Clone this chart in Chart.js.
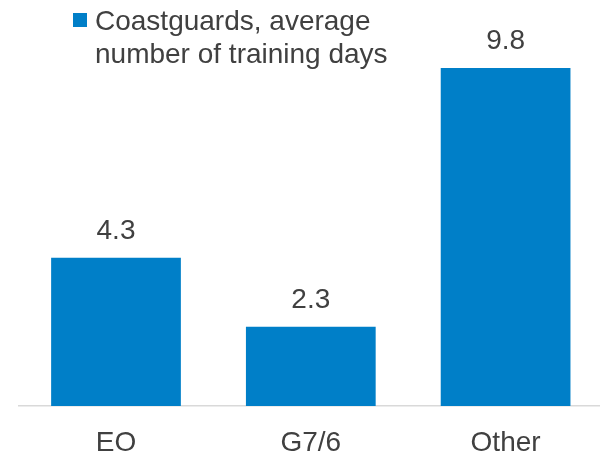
<!DOCTYPE html>
<html>
<head>
<meta charset="utf-8">
<script src="https://cdn.jsdelivr.net/npm/chart.js@4/dist/chart.umd.min.js"></script>
<style>
  html, body { margin: 0; padding: 0; background: #ffffff; }
  #wrap { width: 600px; height: 453px; position: relative; overflow: hidden; }
</style>
</head>
<body>
<div id="wrap"><canvas id="c" width="603" height="453"></canvas></div>
<script>
const categories = ["EO", "G7/6", "Other"];
const trainingDays = [4.3, 2.3, 9.8];
const seriesLabelLines = ["Coastguards, average", "number of training days"];

const BAR_COLOR = "#007FC8";
const TEXT_COLOR = "#404040";
const FONT_FAMILY = "'Liberation Sans', Arial, sans-serif";

const legendPlugin = {
  id: "customLegend",
  afterDraw(chart) {
    const ctx = chart.ctx;
    ctx.save();
    ctx.fillStyle = BAR_COLOR;
    ctx.fillRect(73, 13, 14, 14);
    ctx.fillStyle = TEXT_COLOR;
    ctx.font = "28px " + FONT_FAMILY;
    ctx.textAlign = "left";
    ctx.textBaseline = "alphabetic";
    seriesLabelLines.forEach((line, i) => {
      ctx.fillText(line, 95, 30 + i * 33);
    });
    ctx.restore();
  }
};

const valueLabelPlugin = {
  id: "valueLabels",
  afterDatasetsDraw(chart) {
    const ctx = chart.ctx;
    const meta = chart.getDatasetMeta(0);
    ctx.save();
    ctx.fillStyle = TEXT_COLOR;
    ctx.font = "28px " + FONT_FAMILY;
    ctx.textAlign = "center";
    ctx.textBaseline = "alphabetic";
    meta.data.forEach((bar, i) => {
      const v = chart.data.datasets[0].data[i];
      ctx.fillText(v.toFixed(1), bar.x, bar.y - 18.5);
    });
    ctx.restore();
  }
};

new Chart(document.getElementById("c"), {
  type: "bar",
  data: {
    labels: categories,
    datasets: [{
      label: seriesLabelLines.join(" "),
      data: trainingDays,
      backgroundColor: BAR_COLOR,
      borderWidth: 0,
      categoryPercentage: 1.0,
      barPercentage: 0.666
    }]
  },
  options: {
    responsive: false,
    animation: false,
    devicePixelRatio: 1,
    layout: { padding: { top: 61, left: 18.6, right: 0, bottom: 0 } },
    plugins: {
      legend: { display: false },
      tooltip: { enabled: false }
    },
    scales: {
      y: {
        display: false,
        min: 0,
        max: 10
      },
      x: {
        grid: { display: false, drawTicks: false },
        border: { display: true, color: "#D9D9D9", width: 1.5 },
        ticks: {
          color: TEXT_COLOR,
          font: { family: FONT_FAMILY, size: 28, lineHeight: 1 },
          padding: 23,
          maxRotation: 0
        },
        afterFit(scale) { scale.height = 47; }
      }
    }
  },
  plugins: [legendPlugin, valueLabelPlugin]
});
</script>
</body>
</html>
